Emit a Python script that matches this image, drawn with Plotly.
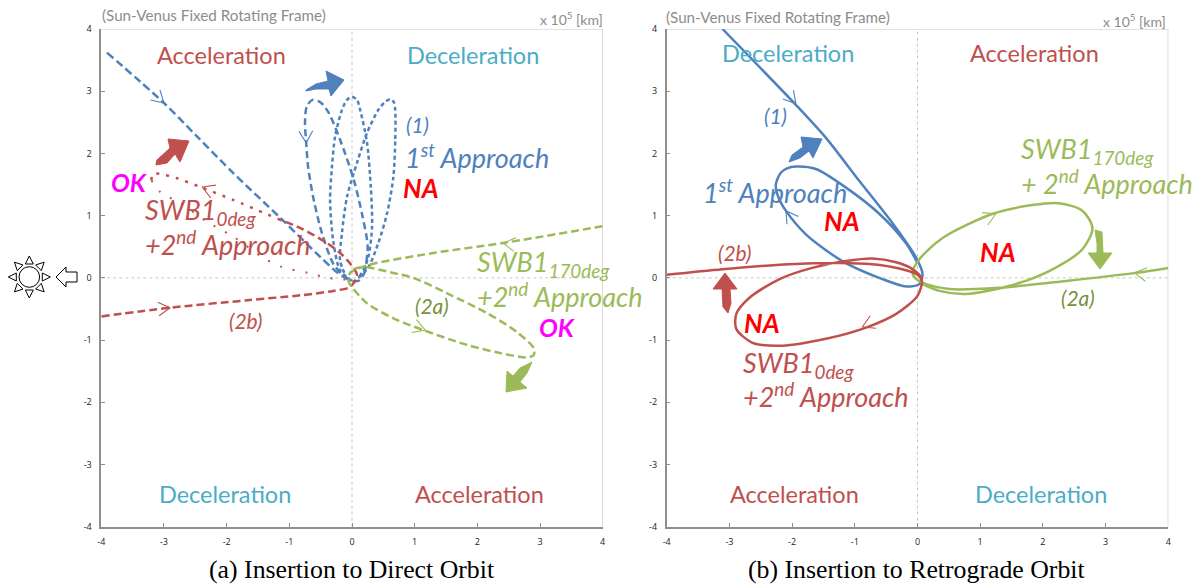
import numpy as np
import plotly.graph_objects as go

BLUE = "#4f81bd"
RED = "#c0504d"
GREEN = "#9bbb59"
DKGREEN = "#76923c"
CYAN = "#4bacc6"
PURE_RED = "#ff0000"
MAGENTA = "#ff00ff"
GREY = "#8c8c8c"

W, H = 1200, 585
BODY = 8  # the page body margin pushes the figure in by this much

# ---- panel (a) direct orbit, units of 1e5 km
a_blue_in_x = [-3.91, -3.0, -2.47, -1.89, -1.14, -0.5, -0.24, -0.03, 0.1, 0.2]
a_blue_in_y = [3.62, 2.81, 2.27, 1.68, 0.96, 0.33, 0.09, -0.04, -0.05, 0.08]
a_petal1_x = [0.2, 0.25, 0.17, 0.03, -0.19, -0.37, -0.5, -0.63, -0.72, -0.75, -0.73, -0.70, -0.61, -0.48, -0.3, -0.14, 0.0]
a_petal1_y = [0.08, 0.5, 0.98, 1.57, 2.22, 2.65, 2.82, 2.86, 2.76, 2.5, 2.17, 1.78, 1.25, 0.72, 0.23, 0.04, -0.05]
a_petal2_x = [0.0, -0.19, -0.3, -0.35, -0.32, -0.27, -0.16, -0.08, 0.0, 0.08, 0.13, 0.24, 0.3, 0.32, 0.26, 0.18, 0.1]
a_petal2_y = [-0.05, 0.12, 0.6, 1.25, 1.78, 2.27, 2.7, 2.86, 2.91, 2.86, 2.7, 2.17, 1.46, 0.82, 0.33, 0.12, 0.0]
a_petal3_x = [0.1, 0.26, 0.42, 0.56, 0.66, 0.69, 0.69, 0.67, 0.61, 0.52, 0.42, 0.24, 0.08, -0.08, -0.16, -0.19, -0.1]
a_petal3_y = [0.0, 0.17, 0.56, 1.04, 1.62, 2.22, 2.7, 2.82, 2.87, 2.82, 2.7, 2.33, 1.85, 1.3, 0.72, 0.28, 0.03]

a_red_in_x = [-4.0, -2.9, -1.67, -0.82, -0.3, -0.03, 0.08, -0.03, -0.19, -0.4, -0.82, -1.14]
a_red_in_y = [-0.62, -0.48, -0.36, -0.28, -0.21, -0.145, 0.04, 0.23, 0.4, 0.56, 0.8, 0.93]
a_red_mid_x = [-1.14, -1.89, -2.42, -2.79, -3.06, -3.18, -3.2]
a_red_mid_y = [0.93, 1.25, 1.46, 1.6, 1.67, 1.67, 1.57]
a_red_out_x = [-3.2, -3.06, -2.74, -2.31, -1.89, -1.41, -1.11, -0.7, -0.38, -0.08]
a_red_out_y = [1.57, 1.38, 1.2, 0.9, 0.66, 0.32, 0.17, 0.08, 0.0, -0.03]

a_green_x = [4.0, 2.41, 1.3, 0.24, -0.03, -0.05, 0.0, 0.24, 0.66, 1.14, 1.84, 2.37, 2.8, 2.9, 2.9,
             2.63, 2.16, 1.52, 0.98, 0.61, 0.24, 0.08, -0.03]
a_green_y = [0.83, 0.56, 0.4, 0.2, 0.08, -0.07, -0.15, -0.41, -0.65, -0.84, -1.08, -1.21, -1.28, -1.24, -1.13,
             -0.87, -0.57, -0.25, 0.0, 0.09, 0.17, 0.16, 0.08]

# ---- panel (b) retrograde orbit
b_blue_x = [-3.11, -1.93, -1.46, -0.93, -0.4, -0.02, 0.08, 0.03, -0.18, -0.56, -1.2, -1.78, -2.1, -2.22, -2.26,
            -2.18, -2.08, -1.94, -1.62, -1.14, -0.61, -0.18, 0.0]
b_blue_y = [4.0, 2.77, 2.25, 1.56, 0.88, 0.32, 0.06, -0.1, -0.14, -0.02, 0.27, 0.7, 1.08, 1.3, 1.5,
            1.69, 1.76, 1.79, 1.75, 1.45, 1.03, 0.55, 0.24]
b_red_x = [-4.0, -3.11, -2.05, -1.25, -0.72, -0.29, 0.0, 0.07, 0.0, -0.34, -0.82, -1.46, -2.16, -2.64,
           -2.89, -2.89, -2.68, -2.2, -1.68, -1.14, -0.72, -0.34, -0.08, 0.06, 0.07]
b_red_y = [0.05, 0.14, 0.22, 0.24, 0.22, 0.15, 0.05, -0.05, -0.29, -0.58, -0.8, -0.98, -1.09, -1.04,
           -0.82, -0.58, -0.32, -0.02, 0.16, 0.27, 0.31, 0.25, 0.14, 0.0, -0.1]
b_green_x = [4.0, 3.48, 2.37, 1.3, 0.5, 0.14, -0.02, -0.08, 0.03, 0.4, 1.2, 1.83, 2.26, 2.63, 2.79, 2.63,
             2.1, 1.46, 0.77, 0.35, 0.08]
b_green_y = [0.16, 0.08, -0.05, -0.16, -0.18, -0.1, -0.02, 0.08, 0.3, 0.64, 1.03, 1.17, 1.2, 1.08, 0.8, 0.46,
             0.11, -0.13, -0.26, -0.21, -0.1]

# small open arrowheads on the paths: x, y, heading in degrees
a_head_x = [-3.0, -0.73, -2.39, -2.9, 2.41, 1.17]
a_head_y = [2.81, 2.17, 1.46, -0.48, 0.56, -0.84]
a_head_deg = [-43, -88, 158, 6, 172, -20]
a_head_col = [BLUE, BLUE, RED, RED, GREEN, GREEN]
b_head_x = [-1.94, -2.1, -0.88, 1.25, 3.46]
b_head_y = [2.8, 1.08, -0.79, 1.03, 0.08]
b_head_deg = [-50, 125, 205, 25, 172]
b_head_col = [BLUE, BLUE, RED, GREEN, GREEN]

ticks = [-4, -3, -2, -1, 0, 1, 2, 3, 4]

# block arrows, drawn on a pixel overlay
blk_blue_a_x = [306, 316, 328, 326, 344, 331, 329, 316, 306]
blk_blue_a_y = [90, 84, 81, 71, 80, 96, 89, 89, 91]
blk_red_a_x = [156, 157, 170, 168, 189, 180, 175, 167, 156]
blk_red_a_y = [164, 160, 148, 139, 141, 162, 154, 163, 165]
blk_green_a_x = [532, 527, 520, 527, 506, 507, 513, 520, 532]
blk_green_a_y = [362, 373, 382, 388, 392, 371, 376, 368, 362]
blk_blue_b_x = [789, 792, 803, 801, 822, 813, 809, 800, 789]
blk_blue_b_y = [162, 155, 147, 137, 139, 158, 151, 158, 162]
blk_green_b_x = [1095, 1102, 1103, 1112, 1100, 1088, 1097, 1097, 1095]
blk_green_b_y = [230, 232, 253, 253, 269, 253, 253, 243, 230]
blk_red_b_x = [725, 737, 730, 731, 728, 723, 722, 713]
blk_red_b_y = [273, 289, 289, 303, 313, 307, 289, 289]

# outline arrow next to the sun
sun_arrow_x = [56, 66, 66, 77, 77, 66, 66, 56]
sun_arrow_y = [277, 267, 272, 272, 282, 282, 287, 277]

fig = go.Figure()


def path(x, y, color, axis, dash="solid", width=2.5):
    fig.add_trace(go.Scatter(x=x, y=y, mode="lines", xaxis="x" + axis, yaxis="y" + axis,
                             line=dict(color=color, width=width, dash=dash, shape="spline", smoothing=0.8),
                             hoverinfo="skip"))


def heads(xs, ys, degs, cols, axis):
    for x, y, d, c in zip(xs, ys, degs, cols):
        bx, by = [], []
        for off in (150, -150):
            t = np.radians(d + off)
            bx += [x + 0.22 * np.cos(t), x, None]
            by += [y + 0.22 * np.sin(t), y, None]
        fig.add_trace(go.Scatter(x=bx, y=by, mode="lines", xaxis="x" + axis, yaxis="y" + axis,
                                 line=dict(color=c, width=1.1), hoverinfo="skip"))


def blob(x, y, fill, line=None):
    fig.add_trace(go.Scatter(x=x + x[:1], y=y + y[:1], mode="lines", fill="toself", fillcolor=fill,
                             xaxis="x3", yaxis="y3", line=dict(color=line or fill, width=1), hoverinfo="skip"))


path(a_petal2_x, a_petal2_y, BLUE, "", "4px,3px")
path(a_petal3_x, a_petal3_y, BLUE, "", "4px,3px")
path(a_petal1_x, a_petal1_y, BLUE, "", "7px,4px")
path(a_blue_in_x, a_blue_in_y, BLUE, "", "8px,4px")
path(a_red_in_x, a_red_in_y, RED, "", "8px,4px")
path(a_red_mid_x, a_red_mid_y, RED, "", "3px,7px")
path(a_red_out_x, a_red_out_y, RED, "", "2px,11px", 2)
path(a_green_x, a_green_y, GREEN, "", "8px,4px")
heads(a_head_x, a_head_y, a_head_deg, a_head_col, "")

path(b_blue_x, b_blue_y, BLUE, "2")
path(b_green_x, b_green_y, GREEN, "2")
path(b_red_x, b_red_y, RED, "2")
heads(b_head_x, b_head_y, b_head_deg, b_head_col, "2")

blob(blk_blue_a_x, blk_blue_a_y, BLUE)
blob(blk_red_a_x, blk_red_a_y, RED)
blob(blk_green_a_x, blk_green_a_y, GREEN)
blob(blk_blue_b_x, blk_blue_b_y, BLUE)
blob(blk_green_b_x, blk_green_b_y, GREEN)
blob(blk_red_b_x, blk_red_b_y, RED)

# sun icon
SUN_X, SUN_Y = 29.3, 277
for deg in range(0, 360, 45):
    t = np.radians(deg)
    c, s = np.cos(t), np.sin(t)
    tri_x = [SUN_X + 21 * c, SUN_X + 13 * c - 4 * s, SUN_X + 13 * c + 4 * s]
    tri_y = [SUN_Y + 21 * s, SUN_Y + 13 * s + 4 * c, SUN_Y + 13 * s - 4 * c]
    blob(tri_x, tri_y, "white", "black")
blob(sun_arrow_x, sun_arrow_y, "white", "black")

labels = []


def label(x, y, text, color, size, anchor="left", font="Lato"):
    labels.append(dict(x=x, y=y, text=text, xref="x3", yref="y3", xanchor=anchor, yanchor="middle",
                       showarrow=False, borderpad=0, font=dict(color=color, size=size, family=font)))


FRAME = "(Sun-Venus Fixed Rotating Frame)"
UNIT = "x 10<sup>5</sup> [km]"
label(101, 15, FRAME, GREY, 15.2)
label(604, 18, UNIT, GREY, 14, "right")
label(665, 17, FRAME, GREY, 15.2)
label(1167, 20, UNIT, GREY, 14, "right")

label(221, 55, "Acceleration", RED, 23.5, "center")
label(473, 55, "Deceleration", CYAN, 23.5, "center")
label(225, 494, "Deceleration", CYAN, 23.5, "center")
label(479, 494, "Acceleration", RED, 23.5, "center")
label(788, 53, "Deceleration", CYAN, 23.5, "center")
label(1034, 53, "Acceleration", RED, 23.5, "center")
label(794, 494, "Acceleration", RED, 23.5, "center")
label(1041, 494, "Deceleration", CYAN, 23.5, "center")

label(405, 124, "<i>(1)</i>", BLUE, 21)
label(404, 156, "<i>1<sup>st</sup> Approach</i>", BLUE, 27)
label(402, 188, "<b><i>NA</i></b>", PURE_RED, 26)
label(110, 182, "<b><i>OK</i></b>", MAGENTA, 25)
label(144, 211, "<i>SWB1<sub>0deg</sub></i>", RED, 27)
label(144, 243, "<i>+2<sup>nd</sup> Approach</i>", RED, 27)
label(246, 320, "<i>(2b)</i>", RED, 21, "center")
label(432, 305, "<i>(2a)</i>", DKGREEN, 21, "center")
label(476, 263, "<i>SWB1<sub>170deg</sub></i>", GREEN, 27)
label(476, 295, "<i>+2<sup>nd</sup> Approach</i>", GREEN, 27)
label(538, 327, "<b><i>OK</i></b>", MAGENTA, 25)

label(775, 115, "<i>(1)</i>", BLUE, 21, "center")
label(702, 191, "<i>1<sup>st</sup> Approach</i>", BLUE, 27)
label(823, 221, "<b><i>NA</i></b>", PURE_RED, 26)
label(735, 252, "<i>(2b)</i>", RED, 21, "center")
label(743, 323, "<b><i>NA</i></b>", PURE_RED, 26)
label(742, 364, "<i>SWB1<sub>0deg</sub></i>", RED, 27)
label(742, 395, "<i>+2<sup>nd</sup> Approach</i>", RED, 27)
label(979, 252, "<b><i>NA</i></b>", PURE_RED, 26)
label(1020, 150, "<i>SWB1<sub>170deg</sub></i>", GREEN, 27)
label(1020, 182, "<i>+ 2<sup>nd</sup> Approach</i>", GREEN, 27)
label(1078, 297, "<i>(2a)</i>", DKGREEN, 21, "center")

label(352, 569, "(a) Insertion to Direct Orbit", "black", 25.8, "center", "Liberation Serif")
label(917, 569, "(b) Insertion to Retrograde Orbit", "black", 25.8, "center", "Liberation Serif")

shapes = []
for ax in ("", "2"):
    # dotted zero lines and the lighter top/right frame
    shapes.append(dict(type="line", xref="x" + ax, yref="y" + ax, x0=0, x1=0, y0=-4, y1=4, layer="below",
                       line=dict(color="#c8c8c8", width=1, dash="dot")))
    shapes.append(dict(type="line", xref="x" + ax, yref="y" + ax, x0=-4, x1=4, y0=0, y1=0, layer="below",
                       line=dict(color="#c8c8c8", width=1, dash="dot")))
    shapes.append(dict(type="line", xref="x" + ax, yref="y" + ax, x0=-4, x1=4, y0=4, y1=4, layer="below",
                       line=dict(color="#c4c4c4", width=1.2)))
    shapes.append(dict(type="line", xref="x" + ax, yref="y" + ax, x0=4, x1=4, y0=-4, y1=4, layer="below",
                       line=dict(color="#c4c4c4", width=1.2)))
# circle of the sun
shapes.append(dict(type="circle", xref="x3", yref="y3", x0=SUN_X - 10.3, x1=SUN_X + 10.3, y0=SUN_Y - 10.3,
                   y1=SUN_Y + 10.3, line=dict(color="black", width=1), fillcolor="white"))


def axis(dom, **kw):
    return dict(domain=dom, range=[-4, 4], tickvals=ticks, ticktext=[str(t) for t in ticks], ticks="inside",
                ticklen=4, tickwidth=1, tickcolor="#8f8f8f", showgrid=False, zeroline=False, showline=True,
                linecolor="#8f8f8f", linewidth=1.5, ticklabelstandoff=6, automargin=False,
                tickfont=dict(size=9, color="#222222", family="Open Sans"), **kw)


def fx(px):
    return (px - BODY) / W


def fy(py):
    return 1 - (py - BODY) / H


y_dom = [fy(526.7), fy(29)]
fig.update_layout(
    width=W, height=H, margin=dict(l=0, r=0, t=0, b=0, autoexpand=False), showlegend=False,
    paper_bgcolor="white", plot_bgcolor="rgba(0,0,0,0)",
    xaxis=axis([fx(101.3), fx(602.7)], anchor="y"),
    yaxis=axis(y_dom, anchor="x"),
    xaxis2=axis([fx(666.7), fx(1168.3)], anchor="y2"),
    yaxis2=axis(y_dom, anchor="x2"),
    xaxis3=dict(domain=[0, 1], range=[BODY, W + BODY], visible=False, anchor="y3", automargin=False),
    yaxis3=dict(domain=[0, 1], range=[H + BODY, BODY], visible=False, anchor="x3", automargin=False),
    annotations=labels, shapes=shapes,
)

fig.write_html("out.html")
